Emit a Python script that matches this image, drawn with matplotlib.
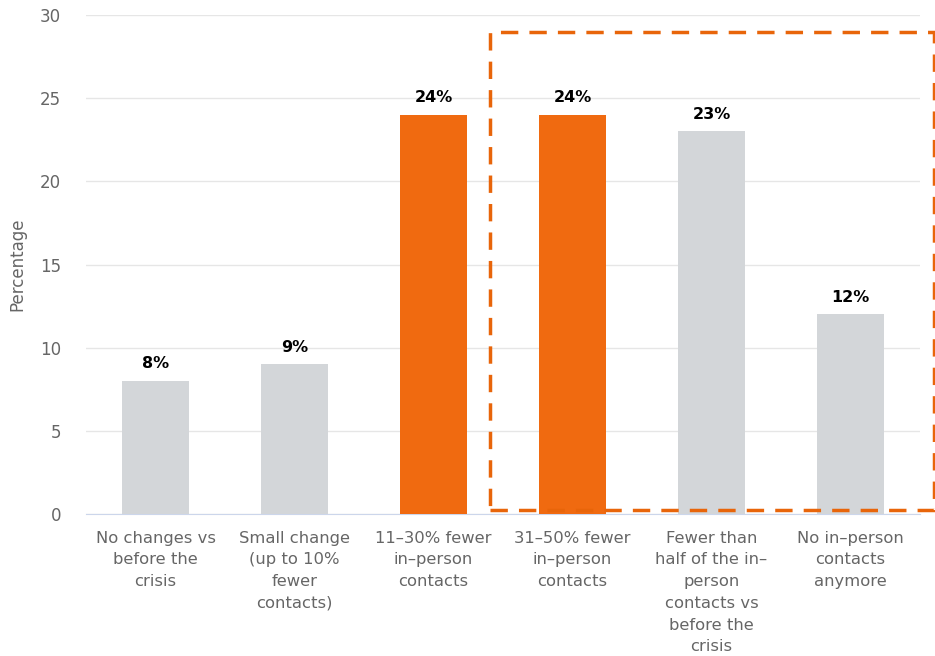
import matplotlib
matplotlib.use("Agg")
import matplotlib.pyplot as plt
from matplotlib.patches import Rectangle

categories = [
    "No changes vs\nbefore the\ncrisis",
    "Small change\n(up to 10%\nfewer\ncontacts)",
    "11\u201330% fewer\nin\u2013person\ncontacts",
    "31\u201350% fewer\nin\u2013person\ncontacts",
    "Fewer than\nhalf of the in\u2013\nperson\ncontacts vs\nbefore the\ncrisis",
    "No in\u2013person\ncontacts\nanymore",
]
values = [8, 9, 24, 24, 23, 12]
highlight = [False, False, True, True, False, False]
yticks = [0, 5, 10, 15, 20, 25, 30]

ORANGE = "#F06A10"
GREY = "#D3D6D9"
TEXT = "#666666"

plt.rcParams["font.family"] = ["DejaVu Sans"]

fig = plt.figure(figsize=(9.35, 6.56), dpi=100)
ax = fig.add_axes([86 / 935, 1 - 514 / 656, (920 - 86) / 935, (514 - 15) / 656])

x = list(range(len(categories)))
colors = [ORANGE if h else GREY for h in highlight]
ax.bar(x, values, width=0.48, color=colors, zorder=3)

for xi, v in zip(x, values):
    ax.annotate(f"{v}%", (xi, v), xytext=(0, 7), textcoords="offset points",
                ha="center", va="bottom", fontsize=11.5, fontweight="bold",
                color="#000000", zorder=4)

ax.set_xlim(-0.5, len(categories) - 0.5)
ax.set_ylim(0, 30)
ax.set_yticks(yticks)
ax.set_yticklabels([str(t) for t in yticks], color=TEXT, fontsize=12)
ax.set_xticks(x)
ax.set_xticklabels(categories, color=TEXT, fontsize=11.8, linespacing=1.56)
ax.tick_params(axis="x", length=0, pad=12)
ax.tick_params(axis="y", length=0, pad=18)

ax.grid(axis="y", color="#e6e6e6", linewidth=1, zorder=0)
for side in ["top", "right", "left"]:
    ax.spines[side].set_visible(False)
ax.spines["bottom"].set_color("#ccd6eb")
ax.spines["bottom"].set_zorder(2)

ax.set_ylabel("Percentage", color=TEXT, fontsize=12, labelpad=10)

# dashed highlight frame around the larger reductions
frame = Rectangle((2.406, 0.24), 5.6 - 2.406, 29.0 - 0.24, fill=False,
                  edgecolor="#E8650A", linewidth=2.5, linestyle=(0, (5, 3.2)),
                  clip_on=False, zorder=5)
ax.add_patch(frame)

fig.savefig("out.png", dpi=100)
